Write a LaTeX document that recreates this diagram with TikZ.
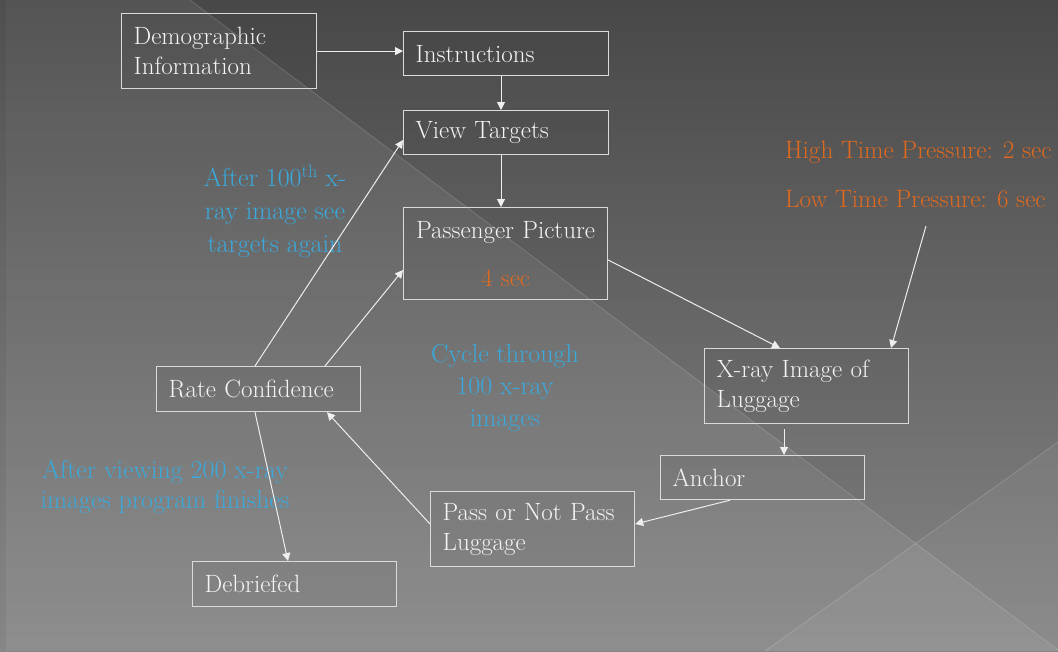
\documentclass[tikz,border=0pt]{standalone}
\usetikzlibrary{arrows.meta,calc}

\definecolor{bgtop}{HTML}{484848}
\definecolor{bgbot}{HTML}{868686}
\definecolor{boxline}{HTML}{DADADA}
\definecolor{arrowcol}{HTML}{EEEEEE}
\definecolor{noteblue}{HTML}{3AA9DC}
\definecolor{noteorange}{HTML}{E0691E}
\definecolor{labeltext}{HTML}{F4F4F4}

\newcommand{\boxfont}{\fontsize{25}{30}\selectfont}
\newcommand{\notefont}{\fontsize{25.2}{32}\selectfont}

\tikzset{
  stepbox/.style={draw=boxline, line width=1.2pt, fill=black, fill opacity=0.04,
    text opacity=1, text=labeltext, anchor=north west, inner xsep=12pt,
    inner ysep=0pt, align=left, font=\boxfont},
  flow/.style={draw=arrowcol, line width=1pt, -{Triangle[length=8pt,width=8pt]}},
  bluenote/.style={text=noteblue, align=center, inner sep=0pt},
  orangenote/.style={text=noteorange, anchor=base west, inner sep=0pt, font=\notefont},
}

\begin{document}
\begin{tikzpicture}[x=1pt,y=-1pt]
  % slide background: vertical gradient with translucent diagonal bands
  \shade[top color=bgtop, bottom color=bgbot] (0,0) rectangle (1058,651);
  \useasboundingbox (0,0) rectangle (1058,651);
  \fill[white, opacity=0.07] (0,0) -- (190,0) -- (1058,650) -- (1058,651) -- (0,651) -- cycle;
  \fill[white, opacity=0.05] (765,651) -- (1058,442) -- (1058,651) -- cycle;
  \draw[white, opacity=0.16, line width=0.8pt] (190,0) -- (1058,650);
  \draw[white, opacity=0.16, line width=0.8pt] (765,651) -- (1058,442);
  \fill[black, opacity=0.05] (0,0) rectangle (6,651);

  % process steps
  \node[stepbox, text width=171pt, minimum height=75pt] (demo) at (121,13) {Demographic\\Information};
  \node[stepbox, text width=181pt, minimum height=44pt] (instr) at (403,31) {Instructions};
  \node[stepbox, text width=181pt, minimum height=44pt] (view) at (403,110) {View Targets};
  \node[stepbox, text width=180pt, minimum height=92pt, align=center] (pp) at (403,207)
    {Passenger Picture\\[18pt]\textcolor{noteorange}{4 sec}};
  \node[stepbox, text width=180pt, minimum height=75pt] (xray) at (704,348) {X-ray Image of\\Luggage};
  \node[stepbox, text width=180pt, minimum height=44pt] (anc) at (660,455) {Anchor};
  \node[stepbox, text width=180pt, minimum height=75pt] (pnp) at (430,491) {Pass or Not Pass\\Luggage};
  \node[stepbox, text width=180pt, minimum height=45pt] (rate) at (156,366) {Rate Confidence};
  \node[stepbox, text width=180pt, minimum height=45pt] (deb) at (192,561) {Debriefed};

  % annotations
  \node[bluenote, font=\fontsize{26}{33}\selectfont] (n1) at (275,211)
    {After 100\textsuperscript{th} x-\\ray image see\\targets again};
  \node[bluenote, font=\fontsize{26}{30}\selectfont] (n2) at (165,486.5)
    {After viewing 200 x-ray\\images program finishes};
  \node[bluenote, font=\fontsize{26}{32}\selectfont] (n3) at (505,388.5)
    {Cycle through\\100 x-ray\\images};
  \node[orangenote] (hp) at (785,158) {High Time Pressure: 2 sec};
  \node[orangenote] (lp) at (785,207) {Low Time Pressure: 6 sec};
  \coordinate (tp) at (926,226);
  \coordinate (cx) at (501,0);

  % connectors
  \draw[flow] (demo.east) -- (demo.east -| instr.west);
  \draw[flow] (instr.south -| cx) -- (view.north -| cx);
  \draw[flow] (view.south -| cx) -- (pp.north -| cx);
  \draw[flow] ($(pp.north east)+(0,53)$) -- ($(xray.north west)+(76,0)$);
  \draw[flow] (tp) -- ($(xray.north west)+(187,0)$);
  \draw[flow] ($(xray.south west)+(80,5)$) -- ($(anc.north west)+(124,0)$);
  \draw[flow] ($(anc.south west)+(70,0)$) -- ($(pnp.north east)+(0,33)$);
  \draw[flow] ($(pnp.north west)+(0,33)$) -- ($(rate.south west)+(171,0)$);
  \draw[flow] ($(rate.north west)+(99,0)$) -- ($(view.north west)+(0,30)$);
  \draw[flow] ($(rate.north west)+(169,0)$) -- ($(pp.north west)+(0,63)$);
  \draw[flow] ($(rate.south west)+(99,0)$) -- ($(deb.north west)+(96,0)$);
\end{tikzpicture}
\end{document}
